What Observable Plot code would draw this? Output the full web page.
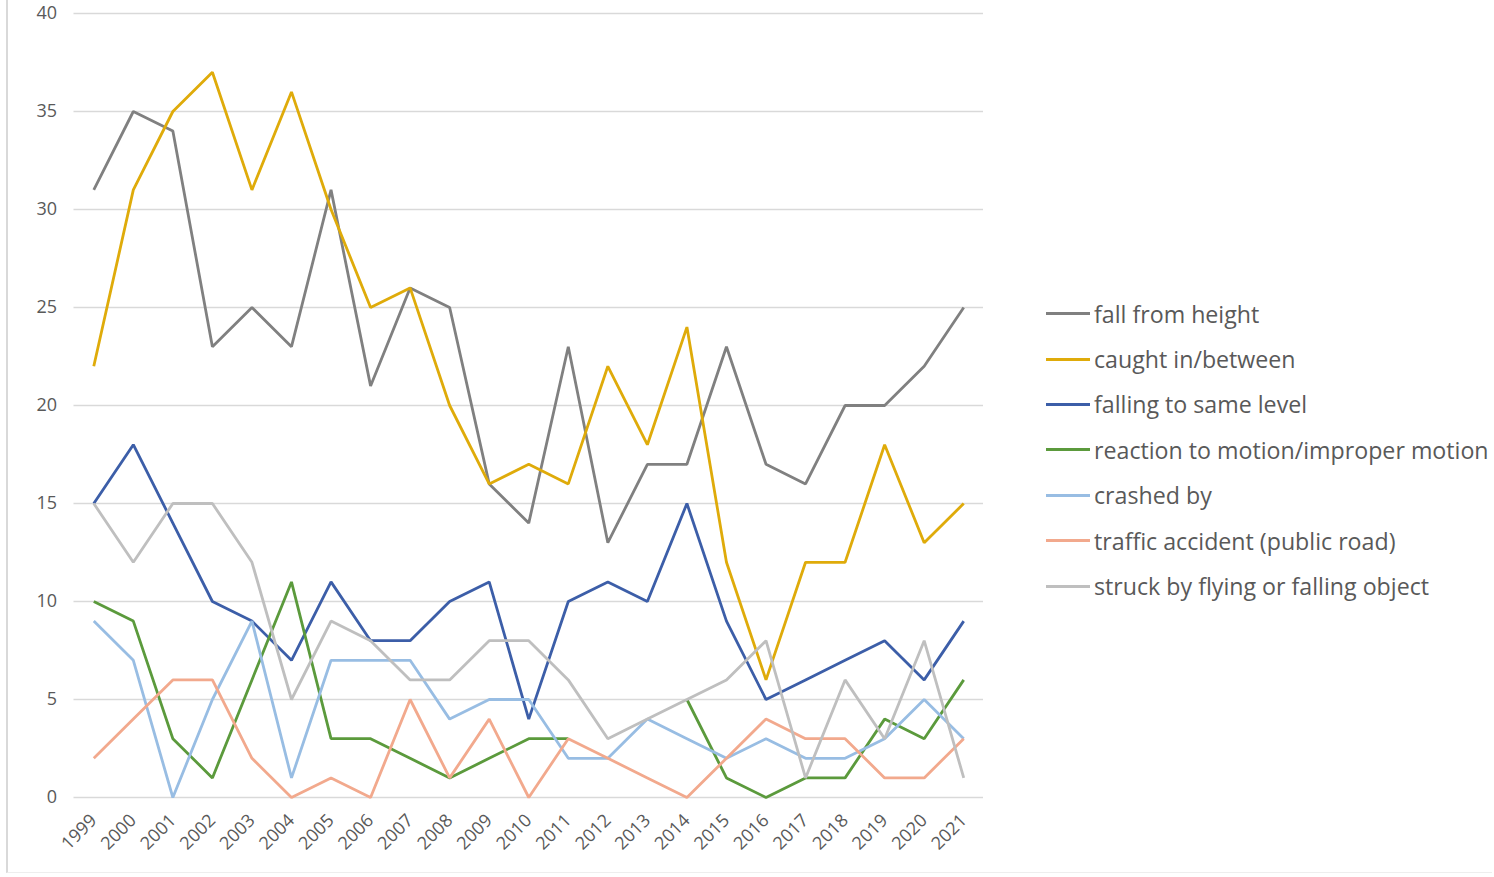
<!DOCTYPE html>
<html>
<head>
<meta charset="utf-8">
<script src="https://cdn.jsdelivr.net/npm/d3@7"></script>
<script src="https://cdn.jsdelivr.net/npm/@observablehq/plot@0.6"></script>
<style>
  html, body { margin: 0; padding: 0; background: #fff; }
  #wrap { position: relative; width: 1494px; height: 877px; overflow: hidden; font-family: "Open Sans", Lato, sans-serif; }
  #frame { position: absolute; left: 6px; top: 0; width: 1486px; height: 873px; border-left: 2px solid #d9d9d9; border-bottom: 1px solid #eeeeee; box-sizing: border-box; }
  #chart { position: absolute; left: 0; top: 0; }
  #legend { position: absolute; left: 1046px; top: 291px; }
  .row { display: flex; align-items: center; height: 45.4px; }
  .sw { width: 44px; height: 3px; margin-right: 4px; }
  .lab { font-size: 23.2px; color: #595959; white-space: nowrap; }
</style>
</head>
<body>
<div id="wrap">
  <div id="frame"></div>
  <div id="chart"></div>
  <div id="legend"></div>
</div>
<script>
const years = ["1999","2000","2001","2002","2003","2004","2005","2006","2007","2008","2009","2010","2011","2012","2013","2014","2015","2016","2017","2018","2019","2020","2021"];
const seriesNames = [
  "fall from height",
  "caught in/between",
  "falling to same level",
  "reaction to motion/improper motion",
  "crashed by",
  "traffic accident (public road)",
  "struck by flying or falling object"
];
const seriesColors = ["#808080", "#DFAB0A", "#3C5EA8", "#5B9A3C", "#98BDE3", "#F2A98D", "#BFBFBF"];
const fallFromHeight   = [31,35,34,23,25,23,31,21,26,25,16,14,23,13,17,17,23,17,16,20,20,22,25];
const caughtInBetween  = [22,31,35,37,31,36,30,25,26,20,16,17,16,22,18,24,12,6,12,12,18,13,15];
const fallingSameLevel = [15,18,14,10,9,7,11,8,8,10,11,4,10,11,10,15,9,5,6,7,8,6,9];
const reactionMotion   = [10,9,3,1,6,11,3,3,2,1,2,3,3,null,null,5,1,0,1,1,4,3,6];
const crashedBy        = [9,7,0,5,9,1,7,7,7,4,5,5,2,2,4,3,2,3,2,2,3,5,3];
const trafficAccident  = [2,4,6,6,2,0,1,0,5,1,4,0,3,2,1,0,2,4,3,3,1,1,3];
const struckByObject   = [15,12,15,15,12,5,9,8,6,6,8,8,6,3,4,5,6,8,1,6,3,8,1];
const yTicks = [0,5,10,15,20,25,30,35,40];

const allSeries = [fallFromHeight, caughtInBetween, fallingSameLevel, reactionMotion, crashedBy, trafficAccident, struckByObject];
const rows = [];
allSeries.forEach((vals, i) => {
  vals.forEach((v, j) => rows.push({series: seriesNames[i], year: years[j], value: v}));
});

const chart = Plot.plot({
  width: 1000,
  height: 877,
  marginTop: 13,
  marginBottom: 80,
  marginLeft: 73.5,
  marginRight: 17,
  style: {fontFamily: "'Open Sans', Lato, sans-serif", fontSize: "18px", color: "#595959", background: "transparent"},
  x: {type: "point", domain: years, padding: 0.5, round: false, label: null},
  y: {domain: [0, 40], label: null},
  color: {domain: seriesNames, range: seriesColors},
  marks: [
    Plot.ruleY(yTicks, {stroke: "#d9d9d9", strokeWidth: 1.5}),
    Plot.axisY({ticks: yTicks, tickSize: 0, tickPadding: 17, fill: "#595959", fontSize: 18}),
    Plot.axisX({tickSize: 0, tickRotate: -45, tickPadding: 20, fill: "#595959", fontSize: 18}),
    Plot.line(rows, {x: "year", y: "value", z: "series", stroke: "series", strokeWidth: 2.8, strokeLinejoin: "miter", strokeLinecap: "butt"})
  ]
});
document.getElementById("chart").appendChild(chart);

const legend = document.getElementById("legend");
seriesNames.forEach((name, i) => {
  const row = document.createElement("div");
  row.className = "row";
  const sw = document.createElement("div");
  sw.className = "sw";
  sw.style.background = seriesColors[i];
  const lab = document.createElement("div");
  lab.className = "lab";
  lab.textContent = name;
  row.appendChild(sw);
  row.appendChild(lab);
  legend.appendChild(row);
});
</script>
</body>
</html>
